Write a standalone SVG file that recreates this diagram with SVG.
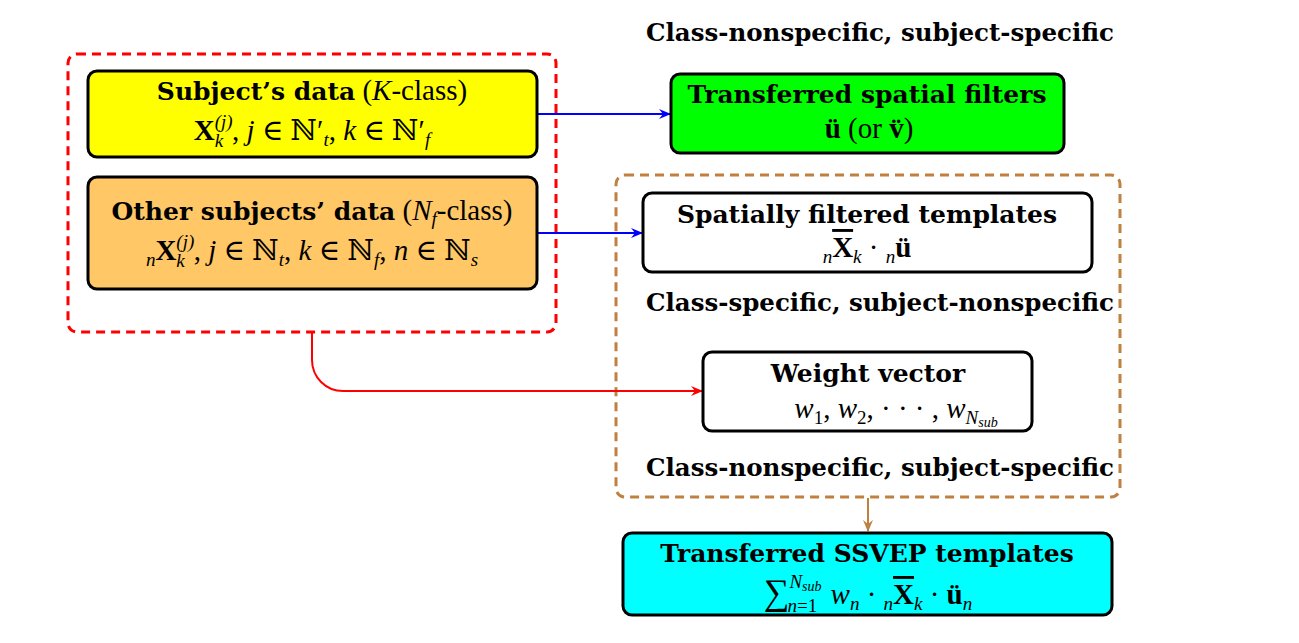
<svg xmlns="http://www.w3.org/2000/svg" width="1299" height="643" viewBox="0 0 1299 643">
<style>
text{font-family:"Liberation Serif","DejaVu Serif",serif;font-size:29px;fill:#000;text-anchor:middle}
.b{font-family:"DejaVu Serif",serif;font-weight:bold;font-size:25px}
.lbl{font-family:"DejaVu Serif",serif;font-weight:bold;font-size:24.5px}
.i{font-style:italic}
.bx{font-weight:bold}
.s{font-size:19px;font-style:italic}
.sr{font-size:19px}
.ss{font-size:14px;font-style:italic}
.node{stroke:#000;stroke-width:3}
.ol{text-decoration:overline}
</style>
<defs>
<marker id="ab" markerWidth="12" markerHeight="10" refX="11" refY="5" orient="auto" markerUnits="userSpaceOnUse"><path d="M0,0 L12,5 L0,10 L4,5 z" fill="#0000FF"/></marker>
<marker id="ar" markerWidth="12" markerHeight="10" refX="11" refY="5" orient="auto" markerUnits="userSpaceOnUse"><path d="M0,0 L12,5 L0,10 L4,5 z" fill="#FF0000"/></marker>
<marker id="an" markerWidth="12" markerHeight="10" refX="11" refY="5" orient="auto" markerUnits="userSpaceOnUse"><path d="M0,0 L12,5 L0,10 L4,5 z" fill="#BF8040"/></marker>
</defs>
<rect width="1299" height="643" fill="#fff"/>

<g id="group-left">
<rect x="68" y="54" width="488" height="278" rx="9" fill="none" stroke="#FF0000" stroke-width="3" stroke-dasharray="9 6"/>
</g>
<g id="group-right">
<rect x="616" y="175" width="504" height="322" rx="9" fill="none" stroke="#BF8040" stroke-width="3" stroke-dasharray="9 6"/>
</g>

<g id="connectors" fill="none" stroke-width="2">
<path d="M537,114 H670" stroke="#0000FF" marker-end="url(#ab)"/>
<path d="M537,233 H642" stroke="#0000FF" marker-end="url(#ab)"/>
<path d="M312,333 V360 A31,31 0 0 0 343,391 H702" stroke="#FF0000" marker-end="url(#ar)"/>
<path d="M868,498 V531" stroke="#BF8040" marker-end="url(#an)"/>
</g>

<g id="subject-data">
<rect class="node" x="88" y="71" width="449" height="86" rx="9" fill="#FFFF00"/>
<text x="312" y="100"><tspan class="b">Subject’s data</tspan> (<tspan class="i">K</tspan>-class)</text>
<text x="312" y="140"><tspan class="bx">X</tspan><tspan class="s" dy="-12">(j)</tspan><tspan class="s" dx="-18" dy="19">k</tspan><tspan dx="9" dy="-7">, </tspan><tspan class="i">j</tspan> ∈ ℕ′<tspan class="s" dy="6">t</tspan><tspan dy="-6">, </tspan><tspan class="i">k</tspan> ∈ ℕ′<tspan class="s" dy="6">f</tspan></text>
</g>

<g id="other-data">
<rect class="node" x="88" y="177" width="449" height="112" rx="9" fill="#FFC766"/>
<text x="312" y="220"><tspan class="b">Other subjects’ data</tspan> (<tspan class="i">N</tspan><tspan class="s" dy="5">f</tspan><tspan dy="-5">-class)</tspan></text>
<text x="312" y="260"><tspan class="s" dy="6">n</tspan><tspan class="bx" dy="-6">X</tspan><tspan class="s" dy="-12">(j)</tspan><tspan class="s" dx="-18" dy="19">k</tspan><tspan dx="9" dy="-7">, </tspan><tspan class="i">j</tspan> ∈ ℕ<tspan class="s" dy="6">t</tspan><tspan dy="-6">, </tspan><tspan class="i">k</tspan> ∈ ℕ<tspan class="s" dy="6">f</tspan><tspan dy="-6">, </tspan><tspan class="i">n</tspan> ∈ ℕ<tspan class="s" dy="6">s</tspan></text>
</g>

<text class="lbl" x="880" y="41">Class-nonspecific, subject-specific</text>

<g id="spatial-filters">
<rect class="node" x="671" y="74" width="393" height="79" rx="9" fill="#00FF00"/>
<text x="867" y="103" class="b">Transferred spatial filters</text>
<text x="869" y="138"><tspan class="bx">ü</tspan> (or <tspan class="bx">v̈</tspan>)</text>
</g>

<g id="filtered-templates">
<rect class="node" x="643" y="193" width="449" height="79" rx="9" fill="#fff"/>
<text x="867" y="223" class="b">Spatially filtered templates</text>
<text x="867" y="257"><tspan class="s" dy="6">n</tspan><tspan class="bx ol" dy="-6">X</tspan><tspan class="s" dy="6">k</tspan><tspan dy="-6"> · </tspan><tspan class="s" dy="6">n</tspan><tspan class="bx" dy="-6">ü</tspan></text>
</g>

<text class="lbl" x="880" y="311">Class-specific, subject-nonspecific</text>

<g id="weight-vector">
<rect class="node" x="703" y="352" width="329" height="79" rx="9" fill="#fff"/>
<text x="868" y="382" class="b">Weight vector</text>
<text x="896" y="418"><tspan class="i">w</tspan><tspan class="sr" dy="6">1</tspan><tspan dy="-6">, </tspan><tspan class="i">w</tspan><tspan class="sr" dy="6">2</tspan><tspan dy="-6">, · · ·  , </tspan><tspan class="i">w</tspan><tspan class="s" dy="6">N</tspan><tspan class="ss" dy="3">sub</tspan></text>
</g>

<text class="lbl" x="880" y="476">Class-nonspecific, subject-specific</text>

<g id="ssvep-templates">
<rect class="node" x="623" y="533" width="489" height="82" rx="9" fill="#00FFFF"/>
<text x="867" y="562" class="b">Transferred SSVEP templates</text>
<text x="868" y="604"><tspan font-size="36">∑</tspan><tspan class="s" dy="-16">N</tspan><tspan class="ss" dy="3">sub</tspan><tspan class="s" dx="-34" dy="21">n</tspan><tspan class="sr">=1</tspan><tspan dx="6" dy="-8"> </tspan><tspan class="i">w</tspan><tspan class="s" dy="6">n</tspan><tspan dy="-6"> · </tspan><tspan class="s" dy="6">n</tspan><tspan class="bx ol" dy="-6">X</tspan><tspan class="s" dy="6">k</tspan><tspan dy="-6"> · </tspan><tspan class="bx">ü</tspan><tspan class="s" dy="6">n</tspan></text>
</g>
</svg>
